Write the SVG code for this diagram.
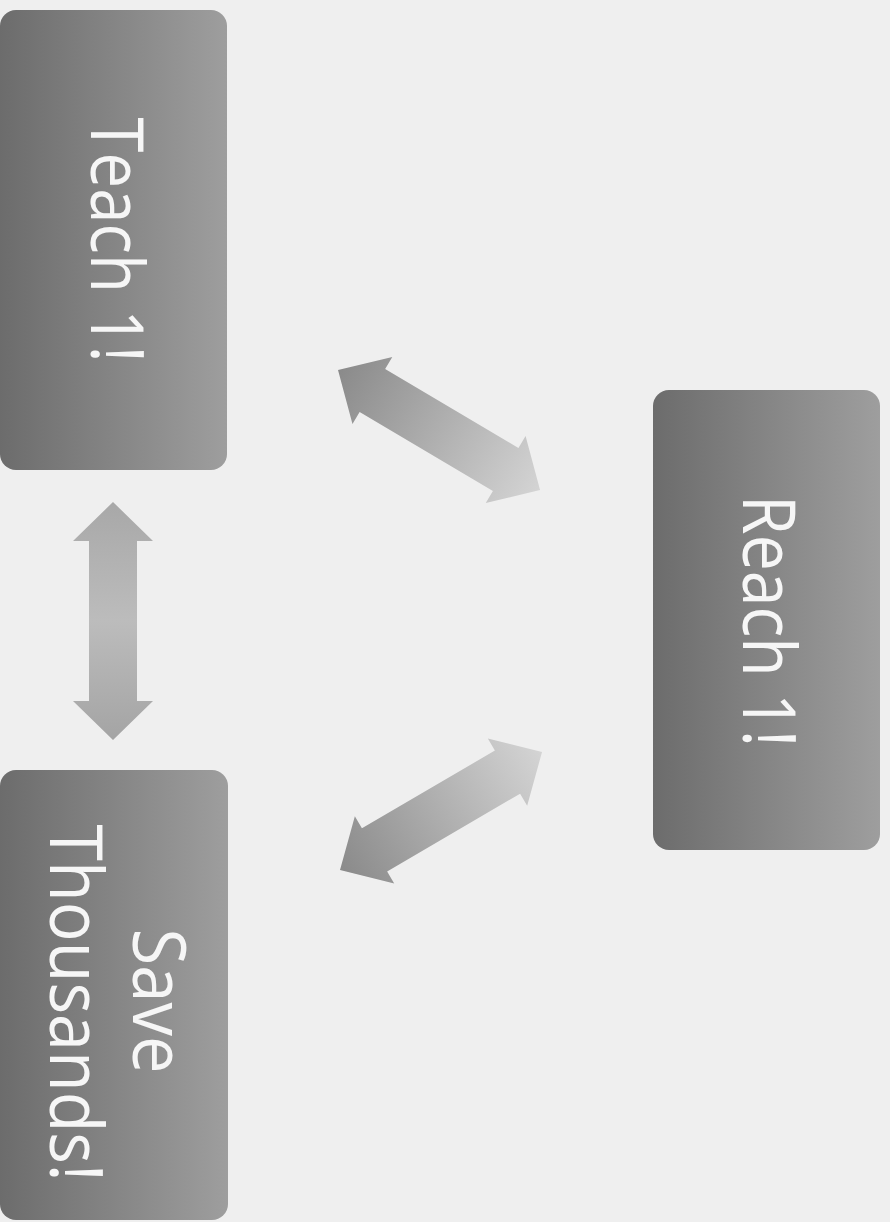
<svg xmlns="http://www.w3.org/2000/svg" width="890" height="1222" viewBox="0 0 890 1222">
<defs>
<linearGradient id="boxg" x1="0" y1="0" x2="1" y2="0">
<stop offset="0" stop-color="#6c6c6c"/>
<stop offset="1" stop-color="#9e9e9e"/>
</linearGradient>
<linearGradient id="arrg" x1="0" y1="0" x2="1" y2="0">
<stop offset="0" stop-color="#8a8a8a"/>
<stop offset="1" stop-color="#d4d4d4"/>
</linearGradient>
<linearGradient id="arrv" x1="0" y1="0" x2="1" y2="0">
<stop offset="0" stop-color="#a8a8a8"/>
<stop offset="0.5" stop-color="#bcbcbc"/>
<stop offset="1" stop-color="#a4a4a4"/>
</linearGradient>
</defs>
<style>
.box{fill:url(#boxg);}
.lbl{font-family:"Open Sans","Segoe UI","DejaVu Sans",sans-serif;font-size:73px;fill:#f6f6f6;text-anchor:middle;}
</style>
<rect x="0" y="0" width="890" height="1222" fill="#efefef"/>
<g id="connectors">
<polygon transform="translate(338,370) rotate(30.7)" fill="url(#arrg)" points="0,0 40,-39 40,-25 195,-25 195,-39 235,0 195,39 195,25 40,25 40,39"/>
<polygon transform="translate(340,870) rotate(-30.3)" fill="url(#arrg)" points="0,0 40,-39 40,-25 194,-25 194,-39 234,0 194,39 194,25 40,25 40,39"/>
<polygon transform="translate(113,502) rotate(90)" fill="url(#arrv)" points="0,0 39,-40 39,-24 199,-24 199,-40 238,0 199,40 199,24 39,24 39,40"/>
</g>
<g id="teach">
<rect class="box" x="0" y="10" width="227" height="460" rx="16"/>
<text class="lbl" transform="translate(91,240) rotate(90)" textLength="245" lengthAdjust="spacingAndGlyphs">Teach 1!</text>
</g>
<g id="reach">
<rect class="box" x="653" y="390" width="227" height="460" rx="16"/>
<text class="lbl" transform="translate(743,621) rotate(90)" textLength="252" lengthAdjust="spacingAndGlyphs">Reach 1!</text>
</g>
<g id="save">
<rect class="box" x="0" y="770" width="228" height="450" rx="16"/>
<text class="lbl" transform="translate(133,1001) rotate(90)" textLength="145" lengthAdjust="spacingAndGlyphs">Save</text>
<text class="lbl" transform="translate(50,1003) rotate(90)" textLength="357" lengthAdjust="spacingAndGlyphs">Thousands!</text>
</g>
</svg>
